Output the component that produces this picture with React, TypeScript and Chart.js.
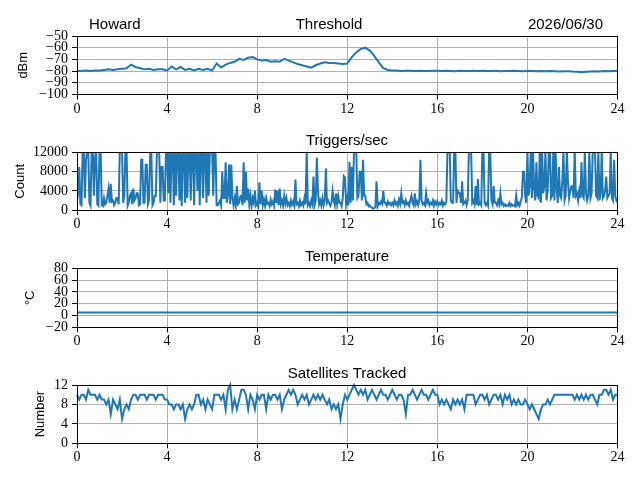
import React, {useEffect, useRef} from "react";
import {Chart, registerables} from "chart.js";

Chart.register(...registerables);

// x axis: hours of the day
const HOUR_TICKS = [0, 4, 8, 12, 16, 20, 24];

// Threshold (dBm), one sample every 0.2 h
const THRESHOLD_STEP_H = 0.2;
const THRESHOLD_DBM = [
    -80, -80, -79.5, -80, -79.5, -79.5, -79, -78.5, -79, -78.5,
    -78, -77.5, -74.5, -76.5, -77.5, -78.5, -78, -79, -78.5, -78.5,
    -79.5, -76, -78.5, -76.5, -79, -78, -79.5, -78, -79, -78,
    -79.5, -73.5, -77, -74.5, -73, -72, -69.5, -70.5, -68.5, -68,
    -70, -71, -70.5, -72, -71.5, -72, -69.5, -71, -72.5, -74,
    -75, -76, -77, -75, -73.5, -72.5, -73, -73, -73.5, -74,
    -73.5, -68, -64, -61, -60, -62.5, -67, -72.5, -77.5, -79,
    -79.5,
    -79.5, -80, -79.6, -79.8, -80, -79.7, -79.9, -80, -79.6, -79.8,
    -80, -79.7, -79.9, -80.1, -79.8, -80, -79.9, -79.7, -80, -79.8,
    -79.9, -80, -79.8, -80.1, -79.9, -80, -79.8, -80, -80.2, -79.9,
    -80, -80.1, -79.9, -80.2, -80, -80.1, -80.3, -80.2, -80.1, -80.4,
    -80.5, -81, -80.6, -80.3, -80.2, -80.3, -80, -80.1, -79.9, -80,
];
const THRESHOLD_TICKS = [-100, -90, -80, -70, -60, -50];

// Triggers per second, one sample every 0.05 h (one row per hour)
const TRIGGER_STEP_H = 0.05;
const TRIGGERS = [
    2000, 3500, 9000, 1200, 1000, 12500, 12500, 2500, 10500, 12500, 12500, 1500, 900, 12500, 12500, 3000, 11000, 12500, 1200, 900,
    12500, 12500, 1000, 800, 2500, 1200, 1500, 3000, 4500, 1500, 5500, 1800, 2000, 1000, 1500, 2500, 2500, 1200, 12500, 12500,
    12500, 1500, 3000, 12500, 12500, 900, 1500, 3000, 3500, 1200, 4500, 2000, 2500, 3500, 3500, 1000, 1200, 10500, 10500, 1500,
    1500, 9500, 9500, 1200, 2000, 12500, 12500, 1000, 1500, 3000, 3000, 12500, 12500, 12500, 1500, 9000, 9000, 2000, 2000, 12500,
    12500, 3500, 12500, 1500, 12500, 12500, 1000, 12500, 3000, 12500, 12500, 2000, 12500, 800, 12500, 12500, 1500, 12500, 2500, 12500,
    12500, 2000, 12500, 12500, 1000, 12500, 12500, 4000, 12500, 1000, 12500, 12500, 2500, 12500, 12500, 1500, 12500, 3000, 12500, 12500,
    12500, 3000, 12500, 12500, 1000, 1000, 1500, 2000, 900, 8000, 2500, 2500, 10000, 1500, 3000, 9500, 1200, 9500, 2500, 1000,
    2500, 900, 5000, 1200, 1500, 2800, 3000, 1000, 10000, 1500, 8000, 2000, 4500, 1200, 3000, 800, 2500, 1500, 4000, 1000,
    1500, 800, 5800, 1200, 4000, 1000, 2200, 900, 2500, 1300, 1500, 800, 2200, 1200, 1800, 900, 4300, 1500, 4000, 1000,
    4500, 1200, 2000, 900, 3000, 1300, 2500, 1000, 1500, 800, 2000, 1100, 1800, 900, 6400, 1200, 1500, 800, 2000, 1000,
    1500, 900, 2500, 1200, 12500, 1000, 1500, 800, 2000, 1200, 7000, 1000, 2000, 11000, 4000, 1200, 2000, 900, 2500, 1000,
    2000, 8700, 1500, 2000, 1500, 900, 1500, 4000, 2000, 1000, 3500, 1200, 3000, 1500, 1500, 800, 2500, 7100, 6800, 1200,
    2500, 1000, 10100, 1500, 9000, 2000, 12500, 12500, 12500, 2500, 3000, 8000, 8000, 2000, 10500, 3000, 3000, 1200, 1500, 800,
    1000, 600, 500, 300, 400, 600, 6000, 800, 1500, 1200, 1800, 1300, 4000, 1500, 1500, 900, 1800, 1200, 1500, 1000,
    1500, 1000, 2000, 1200, 1600, 900, 2200, 1300, 3500, 1500, 1800, 1000, 2000, 1200, 1500, 900, 2000, 3000, 1500, 1000,
    3500, 1200, 1800, 1000, 2000, 10500, 2000, 1200, 1500, 1000, 3500, 1500, 2000, 1000, 1500, 1200, 2000, 900, 1800, 1200,
    1800, 1000, 1500, 1200, 2000, 900, 1500, 1200, 1800, 12500, 12500, 12500, 2000, 1500, 1500, 12500, 12500, 1500, 4000, 3500,
    3500, 1500, 6000, 1200, 1500, 2000, 1000, 2000, 12500, 12500, 12500, 1500, 2000, 1200, 5000, 1000, 6500, 1200, 1500, 1000,
    12500, 12500, 1500, 1000, 1500, 900, 12500, 12500, 2000, 1200, 5000, 1500, 1500, 1000, 2000, 1200, 3500, 1200, 1500, 900,
    1200, 800, 1000, 900, 1500, 800, 1200, 900, 1000, 800, 3000, 1000, 1500, 900, 1800, 2500, 8000, 8000, 3000, 1500,
    12500, 3000, 5000, 12500, 2500, 12500, 4500, 2000, 10000, 3000, 2500, 12500, 1500, 12500, 3500, 5000, 12500, 2000, 4000, 12500,
    12500, 2500, 3000, 12500, 2000, 12500, 4500, 1500, 9000, 3000, 2500, 6000, 12500, 2000, 3000, 12500, 6000, 2500, 4000, 5000,
    5000, 2500, 12500, 3000, 3500, 2000, 4000, 2500, 10000, 3000, 2500, 12500, 3500, 2000, 3000, 12500, 2500, 3500, 12500, 12500,
    12500, 3000, 2500, 12500, 2000, 3500, 12500, 2500, 3000, 4000, 7000, 2500, 3000, 3500, 12500, 2500, 2000, 10500, 3000, 2000,
    2500,
];
const TRIGGER_TICKS = [0, 4000, 8000, 12000];

// Temperature (deg C), one sample per hour
const TEMP_STEP_H = 1;
const TEMPERATURE_C = [
    5, 5, 5, 5, 5, 5, 5, 5, 5, 5, 5, 5, 5,
    5, 5, 5, 5, 5, 5, 5, 5, 5, 5, 5, 5,
];
const TEMP_TICKS = [-20, 0, 20, 40, 60, 80];

// Satellites tracked, one sample every 0.1 h (one row per hour)
const SAT_STEP_H = 0.1;
const SATELLITES = [
    10, 9, 10, 10, 9, 11, 10, 10, 10, 9,
    10, 9, 9, 8, 9, 6, 9, 8, 7, 9,
    5, 7, 8, 7, 9, 10, 10, 9, 10, 10,
    10, 9, 10, 10, 10, 9, 10, 10, 10, 9,
    9, 8, 8, 7, 8, 8, 7, 8, 5, 7,
    8, 7, 8, 10, 10, 8, 9, 7, 9, 8,
    7, 10, 10, 10, 9, 10, 7, 11, 12, 7,
    9, 7, 9, 11, 11, 10, 7, 10, 9, 7,
    10, 9, 10, 10, 7, 10, 9, 10, 10, 9,
    10, 7, 9, 10, 11, 10, 11, 10, 8, 9,
    10, 9, 10, 8, 9, 10, 9, 10, 9, 10,
    9, 8, 9, 7, 8, 7, 8, 5, 8, 10,
    9, 10, 11, 12, 11, 10, 11, 10, 11, 9,
    10, 11, 10, 9, 10, 11, 10, 10, 9, 10,
    11, 10, 9, 10, 10, 9, 6, 10, 10, 11,
    10, 9, 10, 11, 10, 10, 9, 10, 11, 10,
    10, 8, 9, 8, 9, 8, 7, 9, 8, 9,
    8, 9, 7, 10, 10, 10, 10, 8, 9, 10,
    10, 9, 10, 8, 9, 10, 10, 9, 10, 8,
    10, 9, 10, 8, 9, 8, 9, 8, 8, 9,
    8, 7, 8, 7, 6, 5, 7, 8, 8, 9,
    8, 9, 10, 10, 10, 10, 10, 10, 10, 10,
    10, 9, 10, 9, 10, 9, 10, 9, 10, 10,
    9, 8, 10, 10, 11, 11, 10, 11, 9, 10,
    10,
];
const SAT_TICKS = [0, 4, 8, 12];

const LINE_COLOR = '#1f77b4';
const TICK_FONT = {family: '"Liberation Serif", serif', size: 14};
const LABEL_FONT = {family: '"Liberation Sans", sans-serif', size: 13};
const TITLE_FONT = '15px "Liberation Sans", sans-serif';

type PanelTitle = { text: string; x: number; align: CanvasTextAlign };

type PanelProps = {
    values: number[];
    step: number;
    yTicks: number[];
    yLabel: string;
    yLabelPad: number;
    titles: PanelTitle[];
    top: number;
    bottom: number;
    clip?: boolean;
};

const W = 640;
const H = 120;

// same rounding Chart.js uses for 1px grid lines
const align = (p: number) => Math.round(p - 0.5) + 0.5;

const Panel: React.FC<PanelProps> = ({values, step, yTicks, yLabel, yLabelPad, titles, top, bottom, clip}) => {
    const canvasRef = useRef<HTMLCanvasElement>(null);

    useEffect(() => {
        if (!canvasRef.current) return;
        const ctx = canvasRef.current.getContext('2d');
        if (!ctx) return;

        const frame = {
            id: 'frameAndTitles',
            afterDatasetsDraw(chart: Chart) {
                const {ctx: c, chartArea: a} = chart;
                c.save();
                c.strokeStyle = '#000';
                c.lineWidth = 1;
                const l = align(a.left), r = align(a.right);
                const t = align(a.top), b = align(a.bottom);
                c.strokeRect(l, t, r - l, b - t);
                c.fillStyle = '#000';
                c.font = TITLE_FONT;
                c.textBaseline = 'alphabetic';
                titles.forEach(tt => {
                    c.textAlign = tt.align;
                    c.fillText(tt.text, tt.x, a.top - 7.5);
                });
                c.restore();
            },
        };

        const chart = new Chart(ctx, {
            type: 'line',
            data: {
                datasets: [{
                    data: values.map((v, i) => ({x: i * step, y: v})),
                    borderColor: LINE_COLOR,
                    borderWidth: 2,
                    pointRadius: 0,
                    tension: 0,
                    clip: clip ? 0 : 3,
                }],
            },
            options: {
                responsive: false,
                animation: false,
                layout: {padding: {top: top, right: 22.5, bottom: 0, left: 0}},
                plugins: {legend: {display: false}, tooltip: {enabled: false}},
                scales: {
                    x: {
                        type: 'linear',
                        min: 0,
                        max: 24,
                        afterBuildTicks: (s: any) => {
                            s.ticks = HOUR_TICKS.map(value => ({value}));
                        },
                        afterFit: (s: any) => {
                            s.height = H - bottom;
                        },
                        grid: {color: '#b0b0b0', lineWidth: 1, tickColor: '#000', tickLength: 5},
                        border: {display: false},
                        ticks: {font: TICK_FONT, color: '#000', padding: 1, maxRotation: 0, autoSkip: false},
                    },
                    y: {
                        type: 'linear',
                        min: yTicks[0],
                        max: yTicks[yTicks.length - 1],
                        afterBuildTicks: (s: any) => {
                            s.ticks = yTicks.map(value => ({value}));
                        },
                        afterFit: (s: any) => {
                            s.width = 77;
                        },
                        grid: {color: '#b0b0b0', lineWidth: 1, tickColor: '#000', tickLength: 5},
                        border: {display: false},
                        ticks: {
                            font: TICK_FONT,
                            color: '#000',
                            padding: 4,
                            autoSkip: false,
                            callback: (v: any) => String(v).replace('-', '\u2212'),
                        },
                        title: {
                            display: true,
                            text: yLabel,
                            font: LABEL_FONT,
                            color: '#000',
                            padding: {top: yLabelPad, bottom: 0},
                        },
                    },
                },
            },
            plugins: [frame],
        });

        return () => {
            chart.destroy();
        };
    }, []);

    return <canvas ref={canvasRef} width={W} height={H} style={{display: 'block', width: W, height: H}}></canvas>;
};

const App: React.FC = () => {
    return (
        <div style={{position: 'absolute', left: 0, top: 0, width: W, height: 480, background: '#fff'}}>
            <Panel values={THRESHOLD_DBM} step={THRESHOLD_STEP_H} yTicks={THRESHOLD_TICKS}
                   yLabel="dBm" yLabelPad={15.2} top={36} bottom={94.5}
                   titles={[
                       {text: 'Howard', x: 89, align: 'left'},
                       {text: 'Threshold', x: 329, align: 'center'},
                       {text: '2026/06/30', x: 603, align: 'right'},
                   ]}/>
            <Panel values={TRIGGERS} step={TRIGGER_STEP_H} yTicks={TRIGGER_TICKS}
                   yLabel="Count" yLabelPad={12.7} top={32.7} bottom={90} clip
                   titles={[{text: 'Triggers/sec', x: 347, align: 'center'}]}/>
            <Panel values={TEMPERATURE_C} step={TEMP_STEP_H} yTicks={TEMP_TICKS}
                   yLabel={'\u00b0C'} yLabelPad={22.2} top={28.3} bottom={87.3}
                   titles={[{text: 'Temperature', x: 347, align: 'center'}]}/>
            <Panel values={SATELLITES} step={SAT_STEP_H} yTicks={SAT_TICKS}
                   yLabel="Number" yLabelPad={32.7} top={25} bottom={83.3}
                   titles={[{text: 'Satellites Tracked', x: 347, align: 'center'}]}/>
        </div>
    );
};

export default App;
